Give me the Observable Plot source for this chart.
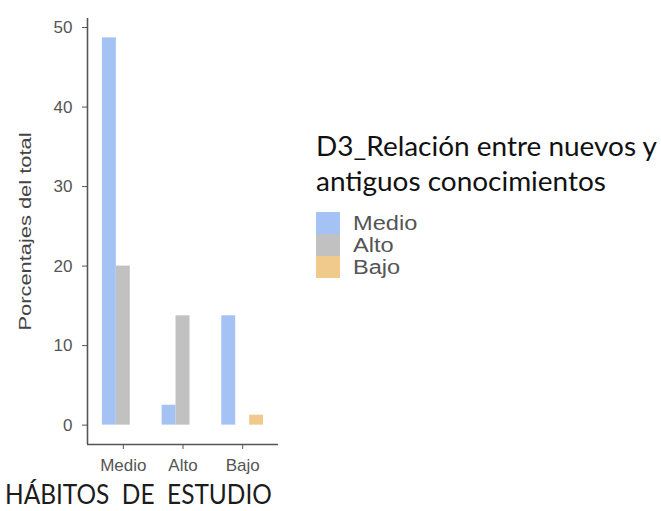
<!DOCTYPE html>
<html>
<head>
<meta charset="utf-8">
<script src="https://cdn.jsdelivr.net/npm/d3@7"></script>
<script src="https://cdn.jsdelivr.net/npm/@observablehq/plot@0.6"></script>
<style>
  html, body { margin: 0; padding: 0; background: #fff; }
  #wrap { position: relative; width: 661px; height: 511px; overflow: hidden; }
  #chart { position: absolute; left: 0; top: 0; }
  #xtitle { position: absolute; left: 5px; top: 481px; height: 26px; line-height: 26px; font-family: Lato, "Open Sans", sans-serif; font-size: 26px; color: #1c1c1c; white-space: pre; transform: scaleX(0.94); transform-origin: left top; }
  #legend { position: absolute; left: 316px; top: 128px; }
  #legend .title { font-family: Lato, "Open Sans", sans-serif; font-size: 27px; line-height: 35px; color: #111; white-space: nowrap; transform: scaleX(1.035); transform-origin: left top; }
  #legend .items { margin-top: 14px; }
  #legend .item { display: flex; align-items: center; height: 22px; }
  #legend .key { width: 24px; height: 22px; }
  #legend .lab { font-family: "Liberation Sans", Arial, sans-serif; font-size: 20px; color: #555; margin-left: 13px; transform: scaleX(1.18); transform-origin: left center; }
</style>
</head>
<body>
<div id="wrap">
  <div id="chart"></div>
  <div id="xtitle"></div>
  <div id="legend"></div>
</div>
<script>
// ---- data ----
const categories = ["Medio", "Alto", "Bajo"];
const seriesNames = ["Medio", "Alto", "Bajo"];
const medio = [48.7, 2.5, 13.75];
const alto = [20, 13.75, 0];
const bajo = [0, 0, 1.25];
const yTicks = [0, 10, 20, 30, 40, 50];
const colors = ["#a4c2f4", "#c1c1c1", "#efca8c"];
const yLabel = "Porcentajes del total";
const xTitle = "HÁBITOS  DE  ESTUDIO";
const legendTitleLines = ["D3_Relación entre nuevos y", "antiguos conocimientos"];

// ---- table ----
const seriesValues = [medio, alto, bajo];
const data = categories.flatMap((c, i) =>
  seriesNames.map((s, k) => ({ cat: c, ci: i, serie: s, k, value: seriesValues[k][i] }))
);

const dodge = 0.7; // total group width (in category units)
const barW = dodge / seriesNames.length;
const xDomain = [0.4, categories.length + 0.6];
const ymax = d3.max(data, d => d.value);
const yDomain = [-0.05 * ymax, ymax * 1.05];

const chart = Plot.plot({
  width: 300,
  height: 480,
  marginLeft: 87,
  marginRight: 22,
  marginTop: 18,
  marginBottom: 36,
  style: { fontFamily: "'Liberation Sans', Arial, sans-serif", fontSize: "17px", color: "#555", background: "#fff" },
  x: {
    type: "linear",
    domain: xDomain,
    ticks: categories.map((c, i) => i + 1),
    tickFormat: v => categories[v - 1],
    tickSize: 5,
    tickPadding: 9,
    label: null
  },
  y: {
    domain: yDomain,
    ticks: yTicks,
    tickSize: 5,
    tickPadding: 10,
    label: null
  },
  color: { domain: seriesNames, range: colors },
  marks: [
    Plot.rect(data, {
      filter: d => d.value > 0,
      x1: d => d.ci + 1 - dodge / 2 + d.k * barW,
      x2: d => d.ci + 1 - dodge / 2 + (d.k + 1) * barW,
      y1: 0,
      y2: "value",
      fill: "serie"
    }),
    Plot.ruleX([xDomain[0]], { stroke: "#555", strokeWidth: 1.6 }),
    Plot.ruleY([yDomain[0]], { stroke: "#555", strokeWidth: 1.6 }),
    Plot.text([yLabel], {
      frameAnchor: "left",
      dx: -62,
      rotate: -90,
      textAnchor: "middle",
      lineAnchor: "middle",
      fontSize: 17,
      fill: "#444"
    })
  ]
});
document.getElementById("chart").appendChild(chart);

// stretch the y label like the reference
d3.select(chart).selectAll("text").filter(function () { return this.textContent === yLabel; })
  .attr("textLength", 198).attr("lengthAdjust", "spacingAndGlyphs");

// x title
document.getElementById("xtitle").textContent = xTitle;

// legend
const leg = d3.select("#legend");
leg.append("div").attr("class", "title").html(legendTitleLines.join("<br>"));
const items = leg.append("div").attr("class", "items");
seriesNames.forEach((s, k) => {
  const it = items.append("div").attr("class", "item");
  it.append("div").attr("class", "key").style("background", colors[k]);
  it.append("div").attr("class", "lab").text(s);
});
</script>
</body>
</html>
